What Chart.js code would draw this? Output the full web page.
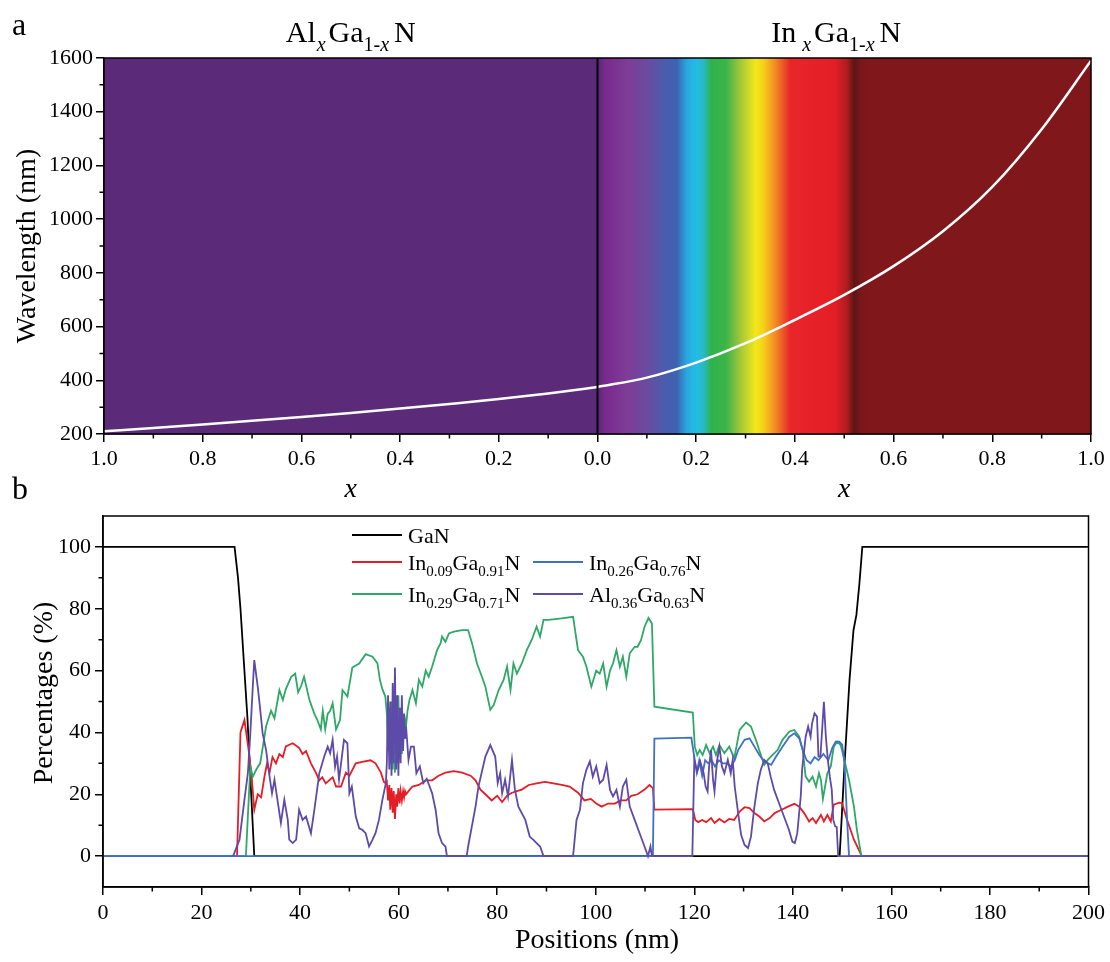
<!DOCTYPE html>
<html>
<head>
<meta charset="utf-8">
<script src="https://cdn.jsdelivr.net/npm/chart.js@4.4.0/dist/chart.umd.min.js"></script>
<style>
    body { margin: 0; background: #fff; }
    #wrap { position: relative; width: 1110px; height: 962px; }
    canvas { position: absolute; left: 0; }
    #band-chart { top: 0; }
    #profile-chart { top: 470px; }
</style>
</head>
<body>
<div id="wrap">
    <canvas id="band-chart" width="1110" height="510"></canvas>
    <canvas id="profile-chart" width="1110" height="492"></canvas>
</div>
<script>
// ---- panel a : band gap wavelength vs composition ----
var alComposition = [1.0, 0.9, 0.8, 0.7, 0.6, 0.5, 0.4, 0.3, 0.2, 0.1, 0.0];
var alWavelength = [210, 222, 235, 249, 263, 278, 295, 312, 330, 351, 375];
var inComposition = [0.0, 0.1, 0.2, 0.3, 0.4, 0.5, 0.6, 0.7, 0.8, 0.9, 1.0];
var inWavelength = [375, 410, 466, 538, 625, 718, 825, 955, 1120, 1335, 1590];
var bandXTicks = [-1, -0.8, -0.6, -0.4, -0.2, 0, 0.2, 0.4, 0.6, 0.8, 1];
var bandYTicks = [200, 400, 600, 800, 1000, 1200, 1400, 1600];

// ---- panel b : composition profile, [position nm, percentage] ----
var profileXTicks = [0, 20, 40, 60, 80, 100, 120, 140, 160, 180, 200];
var profileYTicks = [0, 20, 40, 60, 80, 100];

var ganData = [[0, 100], [26.7, 100], [27.4, 90], [27.9, 80], [29.3, 45], [30.7, 0], [149.5, 0],
    [150.5, 30], [151.5, 57], [152.3, 73], [152.9, 78], [153.5, 88], [154.1, 100], [200, 100]];

var in009Data = [[0, 0], [27.2, 0], [27.9, 40], [28.7, 44], [29.5, 35], [30.1, 27], [30.7, 15], [31.4, 20],
    [32.1, 19], [32.8, 26], [33.3, 30], [33.8, 27], [34.4, 32], [35.1, 30], [35.8, 33], [36.5, 32], [37.1, 35.5],
    [38.5, 36.5], [39.8, 35], [40.5, 33], [41.2, 34], [42.2, 30], [43.2, 27], [43.9, 24.5], [44.5, 25.5],
    [45.2, 23.5], [46.6, 25.5], [47.3, 22.5], [48.3, 22.5], [49.3, 27], [50, 26], [51.3, 30], [52.6, 30.5],
    [54.3, 31], [55.3, 30], [56.4, 27], [57.0, 24], [57.4, 23.5],
    [57.6, 24], [57.85, 18], [58.1, 23], [58.3, 15], [58.55, 22], [58.8, 14], [59.0, 21], [59.25, 12], [59.5, 20],
    [59.7, 16], [59.95, 22], [60.2, 17], [60.4, 21], [60.65, 18], [60.9, 21], [61.1, 19], [61.3, 21], [61.5, 20],
    [62.0, 21], [62.8, 22.5], [64.1, 23], [65.5, 24.5], [66.8, 24.5], [68.1, 26], [69.5, 27], [71.2, 27.5],
    [72.9, 27], [74.6, 26], [75.6, 24.5], [76.6, 21.5], [77.6, 20], [78.9, 18], [80, 19.5], [81, 17.5], [82, 19.5],
    [83, 20.5], [84, 21], [85, 21.5], [86.4, 23], [88, 23.5], [89.7, 24], [91.4, 23.5], [93.1, 23], [94.7, 22.5],
    [96.4, 20.5], [97.7, 18], [99, 18.5], [100.1, 17], [101.2, 16], [102.5, 17], [103.9, 17], [105, 18], [106.2, 18],
    [107.2, 19.5], [108.5, 20], [109.9, 21.5], [110.9, 23], [111.6, 22], [111.9, 15], [119.7, 15.2], [120.2, 11.7],
    [120.8, 11], [121.6, 11.7], [122.4, 11], [123.4, 12.3], [124.1, 10.7], [125.1, 12], [126.1, 10.9], [127.1, 12],
    [128.1, 11.7], [129.2, 14.4], [130.2, 15.8], [131.2, 15.5], [132.2, 13.9], [133.2, 12.8], [134.2, 11.2],
    [135.3, 12.3], [136.3, 13.9], [137.6, 14.9], [139, 16], [140.3, 16.9], [141.3, 16], [142.3, 13.9], [143.3, 11.2],
    [144, 12.3], [144.7, 10.7], [145.7, 13.3], [146.3, 11.2], [147, 13.3], [147.7, 11.2], [148.3, 16.6],
    [149.4, 17.3], [150, 17.1], [151, 11.7], [152.4, 5.3], [153.7, 1], [154, 0], [200, 0]];

var in029Data = [[0, 0], [29.0, 0], [29.9, 29], [30.4, 25.7], [31.1, 28], [31.9, 30], [33.1, 42], [34.1, 47],
    [34.8, 44.6], [35.8, 53.7], [36.5, 50.5], [37.1, 54], [38.2, 58], [39.0, 59], [39.6, 53], [40.2, 55], [40.8, 58],
    [41.9, 50.5], [42.9, 46], [43.5, 44], [44.2, 41], [44.6, 47], [45.1, 41], [45.6, 46], [46.1, 47], [46.6, 49.4],
    [47.3, 41], [48.1, 44], [48.6, 53.7], [49.6, 51.6], [50.6, 61], [52, 62.3], [53.3, 65.3], [54.7, 64.5],
    [55.7, 62.3], [56.2, 57], [56.7, 54], [57.3, 51.6], [57.5, 48],
    [57.6, 46], [57.85, 34], [58.1, 48], [58.3, 30], [58.55, 50], [58.8, 28], [59.0, 48], [59.25, 27], [59.5, 50],
    [59.7, 30], [59.95, 52], [60.2, 32], [60.4, 48], [60.65, 33], [60.9, 46], [61.1, 38], [61.3, 44], [61.5, 42],
    [61.8, 47], [62.2, 50.5], [62.8, 53.7], [63.5, 49.4], [64.1, 57], [64.8, 54.8], [65.5, 60], [66.1, 58],
    [66.8, 61.3], [67.8, 66.6], [68.5, 68.8], [68.8, 71], [69.5, 69.3], [70.2, 72], [71.2, 72.6], [72.9, 73.1],
    [74.1, 73.1], [74.9, 68.8], [75.9, 62.3], [76.9, 58], [77.6, 54.8], [78.6, 47.3], [79.3, 48.9], [80.3, 53.7],
    [81.3, 57], [82, 61.3], [82.7, 53.7], [83.3, 62.3], [84, 59], [85, 62.3], [86, 66.6], [87, 69.9], [88, 74.2],
    [88.7, 71], [89.4, 76.4], [90.4, 76.4], [93.1, 76.9], [95.4, 77.4], [95.8, 73.1], [96.4, 66.6], [97.4, 64.5],
    [98.1, 61.3], [99.1, 54.8], [100.1, 60], [100.8, 59], [101.5, 62.3], [102.2, 54.8], [102.9, 60], [103.5, 62.3],
    [104.2, 66.6], [104.9, 61.3], [105.5, 64.5], [106.2, 58], [106.9, 65.6], [107.9, 67.7], [108.5, 67.7],
    [109.2, 69.9], [109.9, 74.2], [110.7, 77], [111.4, 75.2], [111.9, 48.3], [119.7, 46.4], [120.1, 35.4],
    [120.6, 32.7], [121.1, 34.3], [121.7, 32.7], [122.4, 35.9], [123.1, 33.3], [123.8, 35.4], [124.4, 32.7],
    [125.1, 35.9], [126.1, 33.3], [127.1, 35.4], [128.1, 31.6], [129.2, 40.8], [130.5, 43.2], [131.5, 41.9],
    [132.5, 37.6], [133.5, 32.7], [134.2, 29.5], [134.9, 31.1], [135.9, 32.7], [136.9, 34.3], [137.9, 37.6],
    [139.3, 40.3], [140.3, 40.8], [141.3, 38.6], [142, 34.3], [142.6, 25.7], [143.3, 24.1], [144, 25.7],
    [144.7, 22.5], [145.3, 26.8], [145.7, 24.6], [146.1, 18.5], [147, 26.8], [147.7, 29], [148.3, 35.4],
    [149, 37], [149.7, 35.9], [150.3, 32.2], [151.4, 24.6], [152.4, 16], [153, 8.5], [153.9, 0], [200, 0]];

var in026Data = [[0, 0], [111.6, 0], [111.9, 38], [119.4, 38.3], [120.1, 31], [120.5, 27], [121, 31], [121.6, 26],
    [122.2, 31], [122.8, 30], [123.5, 31], [124.2, 29], [125, 31], [125.8, 30], [126.6, 30], [127.4, 29],
    [128.2, 31], [128.9, 34.3], [130.2, 37.6], [131.2, 38.1], [132.2, 35.4], [133.2, 32.7], [134.2, 30.6],
    [135.6, 29.5], [136.6, 32.2], [137.9, 35.4], [139.3, 38.6], [140.3, 39.7], [141.3, 38.1], [142, 34.3],
    [142.8, 31], [143.6, 30], [144.4, 32], [145.2, 31], [146.2, 33], [147.2, 31], [148, 35], [148.7, 37],
    [149.4, 37], [150, 36], [150.5, 30], [151, 12], [151.4, 0], [200, 0]];

var al036Data = [[26.4, 0], [27.7, 5.3], [28.7, 18.2], [29.4, 26.8], [29.9, 39.7], [30.4, 54.8], [30.7, 63.4],
    [31.4, 54.8], [31.7, 50.5], [32.4, 39.7], [33.1, 34.3], [33.8, 25.7], [34.3, 20.3], [34.8, 24.7], [35.5, 17.1],
    [36.1, 10.7], [36.8, 18.2], [37.5, 11.7], [37.8, 5.3], [38.5, 4.2], [39.2, 5.3], [39.8, 15], [40.5, 11.7],
    [41.2, 12.8], [42.2, 7.4], [42.9, 15], [43.9, 26.8], [44.9, 32.2], [45.6, 35.4], [46.1, 33.3], [46.6, 37.6],
    [47.1, 28.9], [47.5, 32.2], [47.9, 24.7], [48.4, 31.1], [48.9, 37.6], [49.6, 36.5], [50, 20.3], [50.5, 22.5],
    [51.3, 12.8], [52, 9], [52.6, 8.5], [53.3, 7.4], [54, 3.1], [54.7, 5.3], [55.3, 7.4], [56, 11.7], [56.7, 18.2],
    [57.4, 23.6],
    [57.6, 30], [57.85, 52], [58.1, 28], [58.3, 50], [58.55, 26], [58.8, 56], [59.0, 30], [59.25, 61], [59.5, 28],
    [59.7, 52], [59.95, 26], [60.2, 48], [60.4, 30], [60.65, 52], [60.9, 34], [61.1, 46], [61.3, 38], [61.5, 42],
    [62.0, 31.1], [62.5, 35.4], [63.1, 35.4], [63.6, 26.8], [64.3, 29], [65, 23.6], [65.7, 25], [66.8, 20.3],
    [67.5, 15], [68.1, 7.4], [68.8, 4.2], [69.5, 3.1], [69.8, 0], [73.8, 0], [74.1, 3.1], [75.6, 16], [76.2, 22.5],
    [77.6, 32.2], [78.6, 35.9], [79.6, 32.2], [80.1, 23.6], [80.6, 26.8], [81, 20.3], [81.6, 24.7], [82.2, 19.3],
    [83, 31.1], [83.6, 21.4], [84.3, 16], [85.7, 11.7], [86.6, 6.3], [87.3, 5.3], [88, 4.2], [88.7, 3.1], [89.4, 0],
    [95.4, 0], [96.1, 11.7], [96.8, 15], [97.4, 23.6], [98.1, 27.9], [98.8, 30.6], [99.4, 25.7], [100.1, 29],
    [100.8, 23.6], [101.5, 24.7], [102.2, 29.5], [102.9, 21.4], [103.5, 19.3], [104.2, 21.4], [104.9, 16],
    [105.5, 22.5], [106.2, 24.7], [106.9, 16], [107.9, 11.7], [108.9, 7.4], [109.9, 3.1], [110.6, 0], [111.1, 3.1],
    [111.4, 0], [119.6, 0], [120.0, 31], [120.6, 27.3], [121.2, 30.6], [121.9, 26.8], [122.3, 22.5], [122.7, 20.9],
    [123, 29], [123.4, 34.3], [123.8, 24.7], [124.1, 20.9], [124.6, 30.6], [125.1, 35.4], [125.6, 29], [126.1, 26.8],
    [126.8, 31.1], [127.4, 26.8], [127.8, 31.1], [128.2, 22.5], [128.9, 13.9], [129.5, 6.9], [130.2, 3.6],
    [130.9, 2.6], [131.5, 6.3], [132.2, 16], [132.9, 23.6], [133.5, 27.9], [134.2, 31.1], [134.9, 30], [135.5, 25.7],
    [136.2, 21.4], [137.2, 17.1], [138.2, 12.8], [139.2, 8.5], [139.9, 4.7], [140.4, 4.2], [140.9, 7.4],
    [141.6, 19.3], [141.9, 28.4], [142.6, 38.6], [143.1, 41.9], [143.6, 38.6], [143.9, 42.9], [144.4, 46.2],
    [144.9, 45.1], [145.2, 32.2], [145.6, 32.2], [146.3, 49.9], [146.7, 38.6], [147.1, 31.1], [147.5, 25.7],
    [147.9, 21.4], [148.2, 11.7], [148.6, 9.6], [148.9, 9.4], [149.2, 0], [200, 0]];

var SERIF = "'Liberation Serif', 'Times New Roman', serif";
Chart.defaults.font.family = SERIF;
Chart.defaults.color = '#000';

// spectrum colours painted behind the InGaN side (x value, colour)
var SPECTRUM_END = 0.55;
var spectrumStops = [
    [0.0, '#5a2878'], [0.015, '#7a2a8e'], [0.06, '#7f3c98'], [0.10, '#6a4ba0'], [0.13, '#4f5aab'],
    [0.16, '#3c63b2'], [0.18, '#2aa7e0'], [0.20, '#22bde6'], [0.215, '#2ab8c0'], [0.23, '#2fb24b'],
    [0.26, '#3cb44a'], [0.29, '#a6c83a'], [0.32, '#f2e71a'], [0.335, '#f5d21a'], [0.36, '#f28a25'],
    [0.39, '#e8262a'], [0.48, '#e41e26'], [0.505, '#b01c20'], [0.52, '#5e1515'], [0.535, '#7a171b'],
    [0.55, '#80171b']
];

function toPoints(pairs) {
    return pairs.map(function (p) { return { x: p[0], y: p[1] }; });
}

function fixedTicks(values) {
    return function (scale) {
        scale.ticks = values.map(function (v) { return { value: v }; });
    };
}

function minorBetween(values) {
    var out = [];
    for (var i = 0; i < values.length - 1; i++) {
        out.push((values[i] + values[i + 1]) / 2);
    }
    return out;
}

// draws text with subscripts: parts = [text, flags('s' sub, 'i' italic), extra gap]
function drawRich(ctx, parts, x, y, size, align) {
    var subSize = Math.round(size * 0.68);
    function fontFor(p) {
        var sz = p[1].indexOf('s') >= 0 ? subSize : size;
        return (p[1].indexOf('i') >= 0 ? 'italic ' : '') + sz + 'px ' + SERIF;
    }
    var w = 0;
    parts.forEach(function (p) {
        ctx.font = fontFor(p);
        w += ctx.measureText(p[0]).width + (p[2] || 0);
    });
    var cx = align === 'center' ? x - w / 2 : x;
    ctx.textAlign = 'left';
    ctx.textBaseline = 'alphabetic';
    parts.forEach(function (p) {
        ctx.font = fontFor(p);
        var dy = p[1].indexOf('s') >= 0 ? size * 0.3 : 0;
        ctx.fillText(p[0], cx, y + dy);
        cx += ctx.measureText(p[0]).width + (p[2] || 0);
    });
}

function drawRotated(ctx, text, x, y, size) {
    ctx.save();
    ctx.translate(x, y);
    ctx.rotate(-Math.PI / 2);
    ctx.font = size + 'px ' + SERIF;
    ctx.textAlign = 'center';
    ctx.textBaseline = 'middle';
    ctx.fillText(text, 0, 0);
    ctx.restore();
}

var framePlugin = {
    id: 'frame',
    afterDraw: function (chart) {
        var ctx = chart.ctx, a = chart.chartArea, xs = chart.scales.x, ys = chart.scales.y;
        ctx.save();
        ctx.strokeStyle = '#000';
        ctx.lineWidth = 1.5;
        ctx.strokeRect(a.left, a.top, a.right - a.left, a.bottom - a.top);
        ctx.beginPath();
        minorBetween(xs.ticks.map(function (t) { return t.value; })).forEach(function (v) {
            var p = xs.getPixelForValue(v);
            ctx.moveTo(p, a.bottom);
            ctx.lineTo(p, a.bottom + 4.5);
        });
        minorBetween(ys.ticks.map(function (t) { return t.value; })).forEach(function (v) {
            var p = ys.getPixelForValue(v);
            ctx.moveTo(a.left, p);
            ctx.lineTo(a.left - 4.5, p);
        });
        ctx.stroke();
        ctx.restore();
    }
};

var spectrumPlugin = {
    id: 'spectrum',
    beforeDatasetsDraw: function (chart) {
        var ctx = chart.ctx, a = chart.chartArea, xs = chart.scales.x;
        var x0 = Math.round(xs.getPixelForValue(0)), x1 = Math.round(xs.getPixelForValue(SPECTRUM_END));
        var h = a.bottom - a.top;
        ctx.save();
        ctx.fillStyle = '#80171b';
        ctx.fillRect(x0, a.top, a.right - x0, h);
        ctx.fillStyle = '#5b2b79';
        ctx.fillRect(a.left, a.top, x0 - a.left + 1, h);
        var g = ctx.createLinearGradient(x0, 0, x1, 0);
        spectrumStops.forEach(function (s) { g.addColorStop(s[0] / SPECTRUM_END, s[1]); });
        ctx.fillStyle = g;
        ctx.fillRect(x0, a.top, x1 - x0, h);
        ctx.restore();
    },
    afterDatasetsDraw: function (chart) {
        var ctx = chart.ctx, a = chart.chartArea;
        var x0 = chart.scales.x.getPixelForValue(0);
        ctx.save();
        ctx.strokeStyle = '#000';
        ctx.lineWidth = 2;
        ctx.beginPath();
        ctx.moveTo(x0, a.top);
        ctx.lineTo(x0, a.bottom);
        ctx.stroke();
        ctx.restore();
    }
};

var bandLabels = {
    id: 'bandLabels',
    afterDraw: function (chart) {
        var ctx = chart.ctx, xs = chart.scales.x;
        ctx.save();
        ctx.fillStyle = '#000';
        ctx.font = '32px ' + SERIF;
        ctx.textAlign = 'left';
        ctx.fillText('a', 12, 35);
        var leftMid = (xs.getPixelForValue(-1) + xs.getPixelForValue(0)) / 2;
        var rightMid = (xs.getPixelForValue(0) + xs.getPixelForValue(1)) / 2;
        drawRich(ctx, [['Al', '', 1], ['x', 'si', 3], ['Ga', ''], ['1-', 's'], ['x', 'si', 5], ['N', '']], leftMid, 42, 30, 'center');
        drawRich(ctx, [['In', '', 6], ['x', 'si', 3], ['Ga', ''], ['1-', 's'], ['x', 'si', 5], ['N', '']], rightMid - 8, 42, 30, 'center');
        drawRotated(ctx, 'Wavelength (nm)', 28, 246, 28);
        ctx.font = 'italic 28px ' + SERIF;
        ctx.textAlign = 'center';
        ctx.textBaseline = 'middle';
        ctx.fillText('x', leftMid, 490);
        ctx.fillText('x', rightMid, 490);
        ctx.restore();
    }
};

var profileLabels = {
    id: 'profileLabels',
    afterDraw: function (chart) {
        var ctx = chart.ctx;
        ctx.save();
        ctx.fillStyle = '#000';
        ctx.font = '32px ' + SERIF;
        ctx.textAlign = 'left';
        ctx.textBaseline = 'alphabetic';
        ctx.fillText('b', 12, 29);
        drawRotated(ctx, 'Percentages (%)', 45, 223, 28);
        ctx.font = '28px ' + SERIF;
        ctx.textAlign = 'center';
        ctx.textBaseline = 'middle';
        ctx.fillText('Positions (nm)', 597, 471);

        var items = [
            { color: '#000000', x: 352, y: 65, parts: [['GaN', '']] },
            { color: '#e41e26', x: 352, y: 92, parts: [['In', ''], ['0.09', 's'], ['Ga', ''], ['0.91', 's'], ['N', '']] },
            { color: '#3f6fc6', x: 533, y: 92, parts: [['In', ''], ['0.26', 's'], ['Ga', ''], ['0.76', 's'], ['N', '']] },
            { color: '#2ea866', x: 352, y: 124, parts: [['In', ''], ['0.29', 's'], ['Ga', ''], ['0.71', 's'], ['N', '']] },
            { color: '#5e4aa8', x: 533, y: 124, parts: [['Al', ''], ['0.36', 's'], ['Ga', ''], ['0.63', 's'], ['N', '']] }
        ];
        items.forEach(function (it) {
            ctx.strokeStyle = it.color;
            ctx.lineWidth = 1.8;
            ctx.beginPath();
            ctx.moveTo(it.x, it.y);
            ctx.lineTo(it.x + 50, it.y);
            ctx.stroke();
            ctx.fillStyle = '#000';
            drawRich(ctx, it.parts, it.x + 56, it.y + 7.5, 22, 'left');
        });
        ctx.restore();
    }
};

function axisStyle() {
    return {
        grid: { drawOnChartArea: false, drawTicks: true, tickLength: 8, color: '#000', lineWidth: 1.5, tickColor: '#000', tickWidth: 1.5 },
        border: { display: true, color: '#000', width: 1.5 }
    };
}

function plainLabel(v) {
    return String(v);
}

var bandChart = new Chart(document.getElementById('band-chart').getContext('2d'), {
    type: 'line',
    data: {
        datasets: [
            {
                label: 'AlGaN',
                data: alComposition.map(function (c, i) { return { x: -c, y: alWavelength[i] }; }),
                borderColor: '#ffffff',
                borderWidth: 2.5,
                pointRadius: 0,
                cubicInterpolationMode: 'monotone'
            },
            {
                label: 'InGaN',
                data: inComposition.map(function (c, i) { return { x: c, y: inWavelength[i] }; }),
                borderColor: '#ffffff',
                borderWidth: 2.5,
                pointRadius: 0,
                cubicInterpolationMode: 'monotone'
            }
        ]
    },
    options: {
        responsive: false,
        devicePixelRatio: 1,
        animation: false,
        layout: { padding: { top: 58, right: 19, left: 0, bottom: 0 } },
        plugins: { legend: { display: false }, tooltip: { enabled: false } },
        scales: {
            x: Object.assign(axisStyle(), {
                type: 'linear',
                min: -1,
                max: 1,
                afterBuildTicks: fixedTicks(bandXTicks),
                afterFit: function (s) { s.height = 76; },
                ticks: {
                    autoSkip: false,
                    maxRotation: 0,
                    padding: 4,
                    font: { size: 22 },
                    callback: function (v) { return Math.abs(v).toFixed(1); }
                }
            }),
            y: Object.assign(axisStyle(), {
                type: 'linear',
                min: 200,
                max: 1600,
                afterBuildTicks: fixedTicks(bandYTicks),
                afterFit: function (s) { s.width = 104; },
                ticks: { autoSkip: false, padding: 3, font: { size: 22 }, callback: plainLabel }
            })
        }
    },
    plugins: [spectrumPlugin, framePlugin, bandLabels]
});

function profileSet(label, pairs, color) {
    return {
        label: label,
        data: toPoints(pairs),
        borderColor: color,
        borderWidth: 1.8,
        pointRadius: 0,
        tension: 0
    };
}

var profileChart = new Chart(document.getElementById('profile-chart').getContext('2d'), {
    type: 'line',
    data: {
        // first dataset is painted on top
        datasets: [
            profileSet('Al0.36Ga0.63N', al036Data, '#5e4aa8'),
            profileSet('In0.26Ga0.76N', in026Data, '#3f6fc6'),
            profileSet('In0.29Ga0.71N', in029Data, '#2ea866'),
            profileSet('In0.09Ga0.91N', in009Data, '#e41e26'),
            profileSet('GaN', ganData, '#000000')
        ]
    },
    options: {
        responsive: false,
        devicePixelRatio: 1,
        animation: false,
        layout: { padding: { top: 46, right: 18, left: 0, bottom: 0 } },
        plugins: { legend: { display: false }, tooltip: { enabled: false } },
        scales: {
            x: Object.assign(axisStyle(), {
                type: 'linear',
                min: 0,
                max: 200,
                afterBuildTicks: fixedTicks(profileXTicks),
                afterFit: function (s) { s.height = 75; },
                ticks: { autoSkip: false, maxRotation: 0, padding: 5, font: { size: 22 }, callback: plainLabel }
            }),
            y: Object.assign(axisStyle(), {
                type: 'linear',
                min: -10,
                max: 110,
                afterBuildTicks: fixedTicks(profileYTicks),
                afterFit: function (s) { s.width = 103; },
                ticks: { autoSkip: false, padding: 4, font: { size: 22 }, callback: plainLabel }
            })
        }
    },
    plugins: [framePlugin, profileLabels]
});
</script>
</body>
</html>
